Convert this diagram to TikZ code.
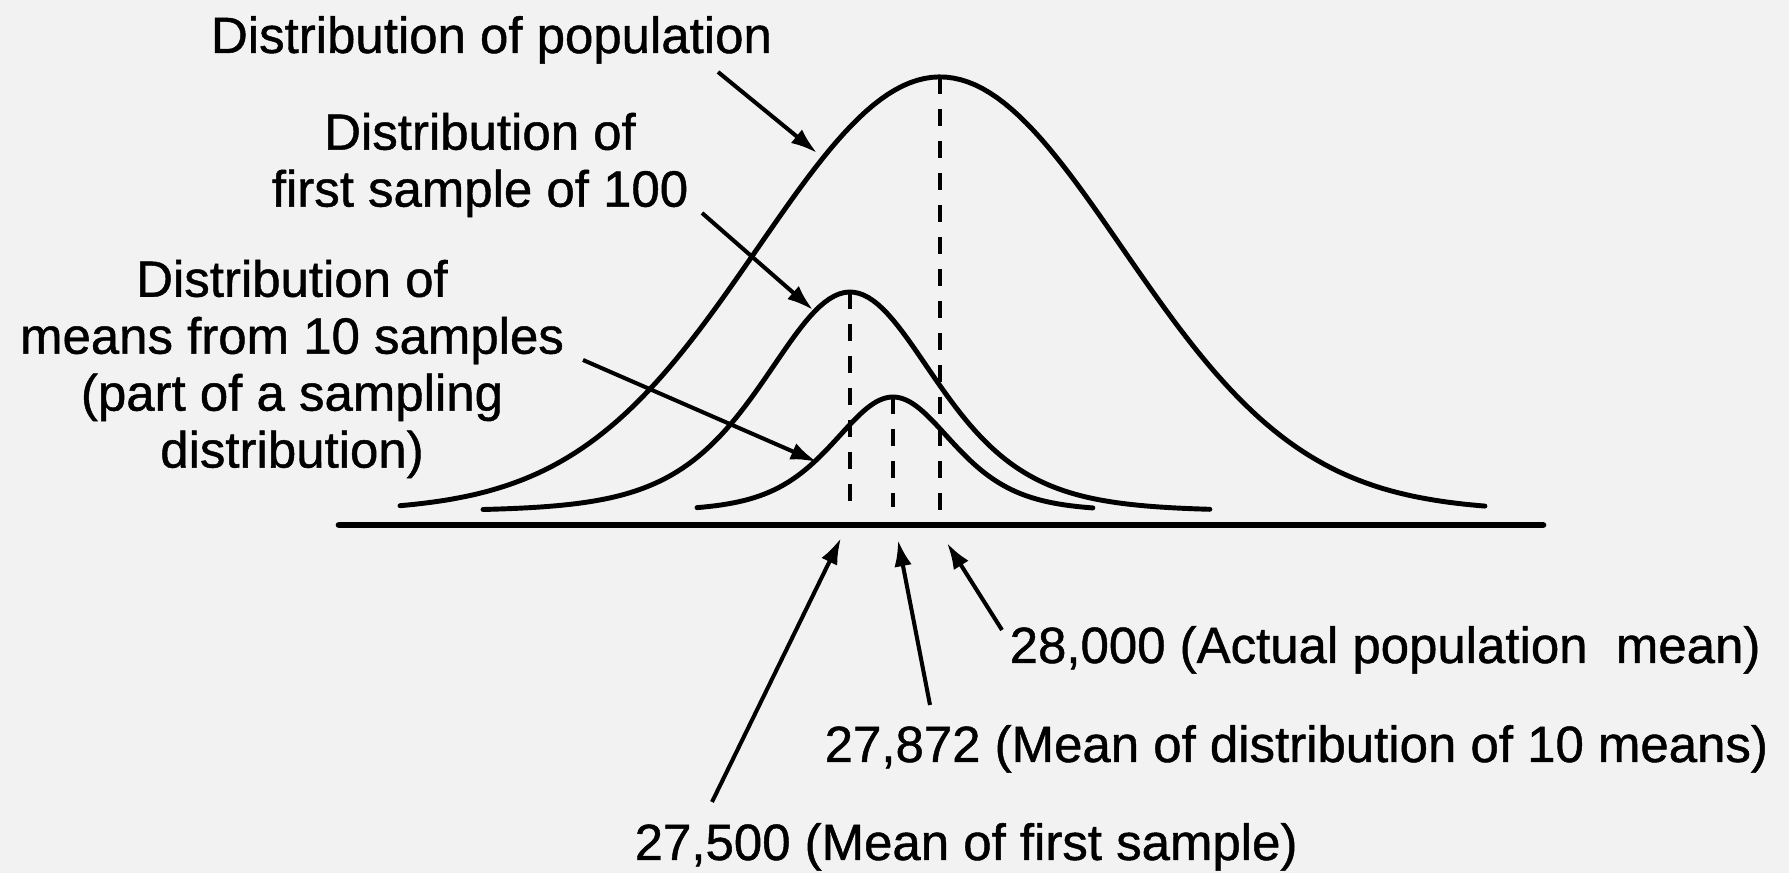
\documentclass[tikz,border=0pt]{standalone}
\usepackage{fontspec}
\setmainfont{Liberation Sans}
\newfontfamily\lblfont[FakeBold=0.9]{Liberation Sans}
\usetikzlibrary{arrows.meta}

\begin{document}
\begin{tikzpicture}[>={Latex[length=7.5pt,width=5pt]},
        curve/.style={line width=1.4pt, line cap=round},
        meanline/.style={line width=1.1pt, dash pattern=on 4.8pt off 4.3pt},
        pointer/.style={->, line width=1.15pt},
        lbl/.style={inner sep=0pt, font=\lblfont\fontsize{14.5}{16.2}\selectfont}]
                % 0. Page
                \fill[black!5] (0,0) rectangle (17.89,8.73);
                \useasboundingbox (0,0) rectangle (17.89,8.73);

                % 1. Base line
                \draw[line width=1.9pt, line cap=round] (3.39,3.48) -- (15.43,3.48);

                % 2. The three curves
                \draw[curve, samples=150, domain=4.00:14.85]
                    plot (\x, {3.62 + 4.34*exp(-((\x-9.40)^2)/(2*1.82^2))});
                \draw[curve, samples=150, domain=4.83:12.10]
                    plot (\x, {3.62 + 2.19/(cosh((\x-8.50)/1.15)^2)});
                \draw[curve, samples=120, domain=6.97:10.93]
                    plot (\x, {3.62 + 1.14/(cosh((\x-8.93)/0.8)^2)});

                % 3. Dashed lines at the means
                \coordinate (popTop) at (9.40,7.96);
                \coordinate (popFoot) at (9.40,3.48);
                \coordinate (smpTop) at (8.50,5.81);
                \coordinate (smpFoot) at (8.50,3.66);
                \coordinate (mnsTop) at (8.93,4.76);
                \coordinate (mnsFoot) at (8.93,3.66);
                \draw[meanline] (popTop) -- (popFoot);
                \draw[meanline] (smpTop) -- (smpFoot);
                \draw[meanline] (mnsTop) -- (mnsFoot);

                % 4. Labels
                \node[lbl, anchor=base] (popLbl) at (4.915,8.20) {Distribution of population};
                \node[lbl, align=center] (smpLbl) at (4.80,7.08) {Distribution of\\first sample of 100};
                \node[lbl, align=center] (mnsLbl) at (2.92,5.04)
                    {Distribution of\\means from 10 samples\\(part of a sampling\\distribution)};
                \node[lbl, anchor=base west] (trueLbl) at (10.09,2.10) {28,000 (Actual population\ \ mean)};
                \node[lbl, anchor=base west] (tenLbl) at (8.24,1.11) {27,872 (Mean of distribution of 10 means)};
                \node[lbl, anchor=base west] (firstLbl) at (6.34,0.13) {27,500 (Mean of first sample)};

                % 5. Arrows
                \coordinate (popTail) at (7.18,8.01);
                \coordinate (popTip) at (8.17,7.20);
                \coordinate (smpTail) at (7.02,6.60);
                \coordinate (smpTip) at (8.13,5.63);
                \coordinate (mnsTail) at (5.83,5.13);
                \coordinate (mnsTip) at (8.17,4.11);
                \coordinate (firstTail) at (7.12,0.71);
                \coordinate (firstTip) at (8.41,3.35);
                \coordinate (tenTail) at (9.30,1.68);
                \coordinate (tenTip) at (8.98,3.33);
                \coordinate (trueTail) at (10.02,2.43);
                \coordinate (trueTip) at (9.47,3.30);
                \foreach \a in {pop,smp,mns,first,ten,true} {
                    \draw[pointer] (\a Tail) -- (\a Tip);
                }
            \end{tikzpicture}
\end{document}
